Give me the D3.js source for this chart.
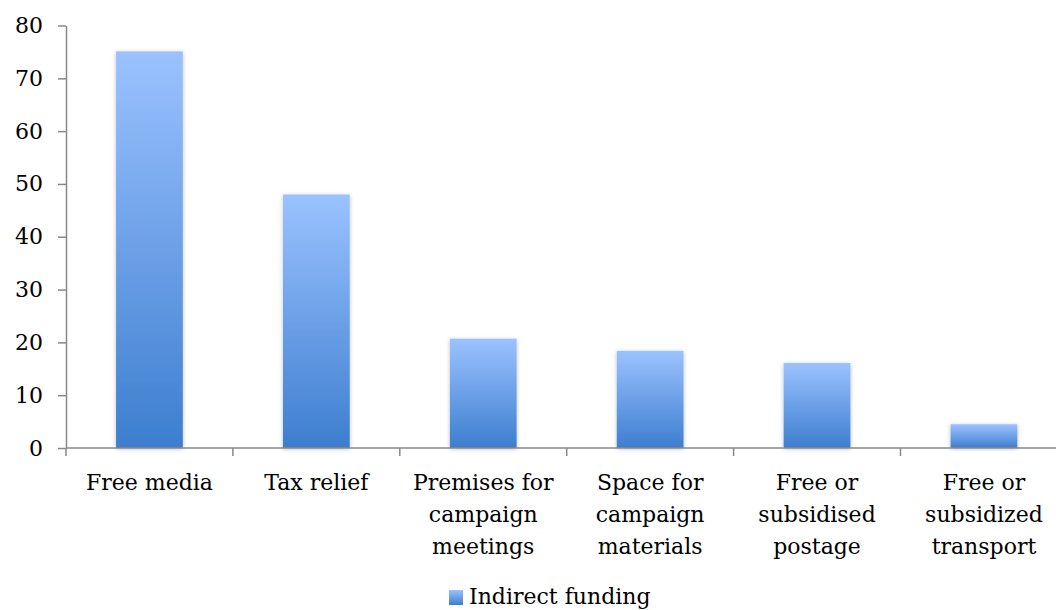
<!DOCTYPE html>
<html><head><meta charset="utf-8">
<script src="https://cdn.jsdelivr.net/npm/d3@7"></script>
<style>body{margin:0;background:#fff}svg{display:block}</style>
</head><body>
<script>
const categories = [["Free media"],["Tax relief"],["Premises for","campaign","meetings"],["Space for","campaign","materials"],["Free or","subsidised","postage"],["Free or","subsidized","transport"]];
const values = [75.1, 48, 20.7, 18.4, 16.1, 4.5];
const yTicks = [0,10,20,30,40,50,60,70,80];
const seriesName = "Indirect funding";

const W=1056,H=610;
const svg=d3.select("body").append("svg").attr("width",W).attr("height",H);
const font="'DejaVu Serif', serif";
const fs=22;
const defs=svg.append("defs");
const g=defs.append("linearGradient").attr("id","grad").attr("x1",0).attr("y1",0).attr("x2",0).attr("y2",1);
g.append("stop").attr("offset","0%").attr("stop-color","#9bc2ff");
g.append("stop").attr("offset","100%").attr("stop-color","#3d7ecf");
const f=defs.append("filter").attr("id","sh").attr("x","-20%").attr("y","-10%").attr("width","140%").attr("height","120%");
f.append("feDropShadow").attr("dx",0).attr("dy",1).attr("stdDeviation",2.2).attr("flood-color","#000").attr("flood-opacity",0.25);

const x0=66, y0=448, yTop=25.5;
const x=d3.scaleBand().domain(d3.range(categories.length)).range([x0, x0+6*166.9]).paddingInner(0.6).paddingOuter(0.3);
const y=d3.scaleLinear().domain([0,80]).range([y0,yTop]);

svg.append("g").selectAll("rect").data(values).join("rect")
 .attr("x",(d,i)=>x(i)).attr("width",x.bandwidth())
 .attr("y",d=>y(d)).attr("height",d=>y0-y(d))
 .attr("fill","url(#grad)").attr("filter","url(#sh)");

const ya=svg.append("g").attr("transform",`translate(${x0},0)`)
 .call(d3.axisLeft(y).tickValues(yTicks).tickSize(8).tickPadding(15).tickSizeOuter(0));
ya.select(".domain").attr("stroke","#888").attr("stroke-width",1.5);
ya.selectAll(".tick line").attr("stroke","#888").attr("stroke-width",1.5);
ya.selectAll(".tick text").attr("font-family",font).attr("font-size",fs).attr("fill","#000");

const xa=svg.append("g").attr("transform",`translate(0,${y0})`);
xa.append("line").attr("x1",x0).attr("x2",W).attr("stroke","#888").attr("stroke-width",1.5);
xa.selectAll("line.t").data(d3.range(categories.length)).join("line").attr("class","t")
 .attr("x1",i=>x(i)-x.step()*x.paddingOuter()).attr("x2",i=>x(i)-x.step()*x.paddingOuter()).attr("y1",0).attr("y2",8)
 .attr("stroke","#888").attr("stroke-width",1.5);

const labels=svg.append("g");
categories.forEach((lines,i)=>{
  const cx=x(i)+x.bandwidth()/2;
  const t=labels.append("text").attr("text-anchor","middle").attr("font-family",font).attr("font-size",fs).attr("fill","#000");
  lines.forEach((l,j)=>t.append("tspan").attr("x",cx).attr("y",490+j*32).text(l));
});

const lg=svg.append("g");
lg.append("rect").attr("x",449).attr("y",590).attr("width",14).attr("height",15).attr("fill","url(#grad)");
lg.append("text").attr("x",469).attr("y",604).attr("font-family",font).attr("font-size",fs).attr("fill","#000").text(seriesName);
</script>
</body></html>
